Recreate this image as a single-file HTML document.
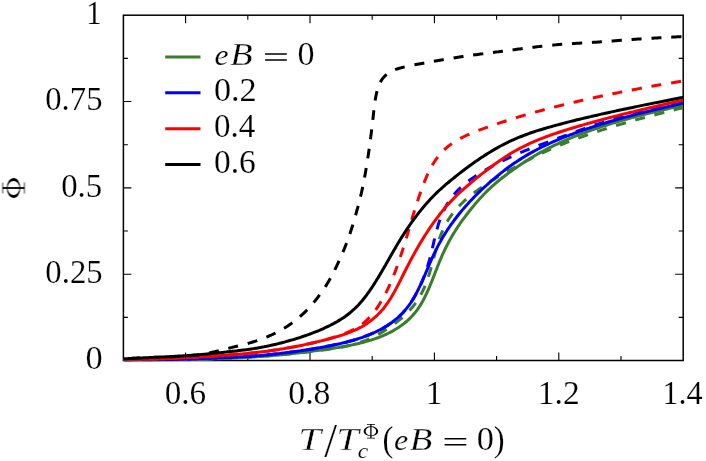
<!DOCTYPE html>
<html><head><meta charset="utf-8"><title>chart</title>
<style>
html,body{margin:0;padding:0;background:#fff;}
body{width:706px;height:461px;position:relative;overflow:hidden;font-family:"Liberation Serif",serif;}
</style></head><body>
<svg width="706" height="461" viewBox="0 0 706 461" style="position:absolute;left:0;top:0">
<rect x="0" y="0" width="706" height="461" fill="#fff"/>
<defs><clipPath id="cp"><rect x="123.4" y="15.2" width="559.80" height="346.00"/></clipPath></defs>
<g stroke="#000" fill="none" stroke-linecap="butt">
<rect x="123.4" y="15.2" width="559.80" height="345.30" stroke-width="1.5"/>
<path d="M185.60 360.5v-8M185.60 15.2v8M247.80 360.5v-4.5M247.80 15.2v4.5M310.00 360.5v-8M310.00 15.2v8M372.20 360.5v-4.5M372.20 15.2v4.5M434.40 360.5v-8M434.40 15.2v8M496.60 360.5v-4.5M496.60 15.2v4.5M558.80 360.5v-8M558.80 15.2v8M621.00 360.5v-4.5M621.00 15.2v4.5M123.4 317.34h4.5M683.2 317.34h-4.5M123.4 274.18h8M683.2 274.18h-8M123.4 231.01h4.5M683.2 231.01h-4.5M123.4 187.85h8M683.2 187.85h-8M123.4 144.69h4.5M683.2 144.69h-4.5M123.4 101.52h8M683.2 101.52h-8M123.4 58.36h4.5M683.2 58.36h-4.5" stroke-width="1.1"/>
</g>
<g clip-path="url(#cp)" fill="none" stroke-linejoin="round">
<path d="M123.40 360.40C123.83 360.40 125.10 360.40 125.95 360.39C126.81 360.39 127.66 360.38 128.51 360.38C129.36 360.37 130.21 360.37 131.06 360.36C131.91 360.36 132.76 360.35 133.62 360.35C134.47 360.34 135.32 360.34 136.17 360.33C137.02 360.33 137.87 360.32 138.72 360.31C139.57 360.31 140.43 360.30 141.28 360.30C142.13 360.29 142.98 360.29 143.83 360.28C144.68 360.27 145.53 360.27 146.39 360.26C147.24 360.25 148.09 360.25 148.94 360.24C149.79 360.23 150.64 360.23 151.49 360.22C152.34 360.21 153.20 360.20 154.05 360.20C154.90 360.19 155.75 360.18 156.60 360.17C157.45 360.16 158.30 360.15 159.15 360.14C160.01 360.14 160.86 360.13 161.71 360.12C162.56 360.11 163.41 360.10 164.26 360.09C165.11 360.08 165.96 360.07 166.81 360.05C167.67 360.04 168.52 360.03 169.37 360.02C170.22 360.01 171.07 360.00 171.92 359.98C172.77 359.97 173.62 359.96 174.47 359.94C175.33 359.93 176.18 359.92 177.03 359.90C177.88 359.89 178.73 359.87 179.58 359.86C180.43 359.84 181.28 359.82 182.13 359.81C182.99 359.79 183.84 359.77 184.69 359.76C185.54 359.74 186.39 359.72 187.24 359.70C188.09 359.68 188.94 359.67 189.79 359.65C190.64 359.63 191.50 359.61 192.35 359.59C193.20 359.56 194.05 359.54 194.90 359.52C195.75 359.50 196.60 359.48 197.45 359.45C198.30 359.43 199.15 359.41 200.00 359.38C200.86 359.36 201.71 359.33 202.56 359.30C203.41 359.28 204.26 359.25 205.11 359.22C205.96 359.20 206.81 359.17 207.66 359.14C208.51 359.11 209.36 359.08 210.21 359.05C211.06 359.02 211.92 358.99 212.77 358.96C213.62 358.93 214.47 358.90 215.32 358.86C216.17 358.83 217.02 358.80 217.87 358.76C218.72 358.73 219.57 358.70 220.42 358.66C221.27 358.63 222.12 358.59 222.97 358.55C223.82 358.52 224.67 358.48 225.52 358.44C226.37 358.40 227.23 358.36 228.08 358.32C228.93 358.29 229.78 358.25 230.63 358.21C231.48 358.16 232.33 358.12 233.18 358.08C234.03 358.04 234.88 358.00 235.73 357.95C236.58 357.91 237.43 357.87 238.28 357.82C239.13 357.78 239.98 357.73 240.83 357.68C241.68 357.64 242.53 357.59 243.38 357.54C244.23 357.49 245.08 357.45 245.93 357.40C246.78 357.35 247.63 357.30 248.48 357.24C249.33 357.19 250.18 357.14 251.03 357.09C251.87 357.03 252.72 356.98 253.57 356.92C254.42 356.87 255.27 356.81 256.12 356.75C256.97 356.70 257.82 356.64 258.67 356.58C259.52 356.52 260.37 356.46 261.22 356.40C262.06 356.34 262.91 356.27 263.76 356.21C264.61 356.14 265.46 356.08 266.31 356.01C267.16 355.95 268.01 355.88 268.85 355.81C269.70 355.74 270.55 355.67 271.40 355.60C272.25 355.53 273.09 355.45 273.94 355.38C274.79 355.30 275.64 355.23 276.49 355.15C277.33 355.07 278.18 355.00 279.03 354.92C279.88 354.84 280.72 354.76 281.57 354.68C282.42 354.59 283.26 354.51 284.11 354.43C284.96 354.34 285.81 354.26 286.65 354.17C287.50 354.08 288.35 354.00 289.19 353.91C290.04 353.82 290.89 353.73 291.73 353.63C292.58 353.54 293.42 353.45 294.27 353.36C295.12 353.26 295.96 353.17 296.81 353.07C297.66 352.97 298.50 352.87 299.35 352.78C300.19 352.68 301.04 352.58 301.88 352.47C302.73 352.37 303.57 352.27 304.42 352.17C305.27 352.06 306.11 351.96 306.96 351.86C307.80 351.75 308.65 351.64 309.49 351.54C310.34 351.43 311.18 351.32 312.03 351.21C312.87 351.10 313.72 350.99 314.56 350.88C315.41 350.77 316.25 350.66 317.10 350.55C317.94 350.43 318.79 350.32 319.63 350.20C320.48 350.09 321.32 349.97 322.16 349.86C323.01 349.74 323.85 349.63 324.70 349.51C325.54 349.39 326.39 349.27 327.23 349.15C328.07 349.03 328.92 348.91 329.76 348.78C330.61 348.66 331.45 348.53 332.29 348.41C333.13 348.28 333.98 348.15 334.82 348.02C335.66 347.89 336.50 347.75 337.35 347.62C338.19 347.48 339.03 347.34 339.87 347.20C340.71 347.06 341.55 346.92 342.39 346.77C343.23 346.62 344.07 346.47 344.91 346.32C345.75 346.17 346.59 346.01 347.42 345.85C348.26 345.69 349.10 345.53 349.94 345.36C350.77 345.20 351.61 345.03 352.44 344.85C353.28 344.68 354.11 344.50 354.94 344.31C355.78 344.13 356.61 343.94 357.44 343.75C358.27 343.56 359.10 343.36 359.93 343.16C360.76 342.95 361.59 342.74 362.41 342.53C363.24 342.31 364.06 342.09 364.89 341.87C365.71 341.64 366.53 341.41 367.35 341.17C368.17 340.93 368.99 340.68 369.80 340.43C370.62 340.18 371.43 339.92 372.24 339.65C373.06 339.39 373.87 339.12 374.67 338.84C375.48 338.56 376.29 338.27 377.09 337.98C377.89 337.68 378.69 337.38 379.48 337.07C380.28 336.76 381.07 336.45 381.86 336.12C382.65 335.80 383.43 335.46 384.22 335.12C385.00 334.78 385.78 334.43 386.55 334.07C387.32 333.71 388.09 333.35 388.85 332.97C389.61 332.59 390.37 332.21 391.12 331.81C391.88 331.42 392.62 331.01 393.36 330.60C394.10 330.18 394.84 329.76 395.57 329.32C396.29 328.89 397.01 328.44 397.73 327.99C398.44 327.53 399.14 327.07 399.84 326.59C400.54 326.12 401.23 325.63 401.91 325.13C402.59 324.63 403.26 324.12 403.92 323.60C404.58 323.08 405.23 322.55 405.87 322.01C406.52 321.47 407.15 320.91 407.77 320.35C408.39 319.79 409.00 319.21 409.61 318.63C410.21 318.04 410.80 317.44 411.37 316.84C411.95 316.23 412.52 315.61 413.08 314.99C413.63 314.36 414.18 313.72 414.71 313.07C415.24 312.42 415.76 311.77 416.27 311.10C416.78 310.43 417.27 309.75 417.76 309.07C418.24 308.38 418.72 307.69 419.18 306.98C419.64 306.28 420.09 305.57 420.54 304.85C420.98 304.13 421.41 303.40 421.83 302.67C422.25 301.94 422.67 301.20 423.07 300.46C423.48 299.71 423.87 298.96 424.26 298.21C424.65 297.46 425.03 296.70 425.41 295.93C425.78 295.17 426.15 294.40 426.51 293.63C426.87 292.86 427.22 292.08 427.57 291.31C427.92 290.53 428.27 289.75 428.61 288.96C428.95 288.18 429.28 287.40 429.61 286.61C429.95 285.82 430.27 285.03 430.60 284.24C430.92 283.45 431.24 282.66 431.56 281.87C431.88 281.07 432.20 280.28 432.51 279.48C432.83 278.69 433.14 277.89 433.45 277.10C433.76 276.30 434.07 275.50 434.38 274.71C434.69 273.91 435.00 273.11 435.31 272.31C435.62 271.52 435.93 270.72 436.24 269.92C436.55 269.13 436.86 268.33 437.18 267.54C437.49 266.74 437.80 265.95 438.12 265.16C438.44 264.36 438.75 263.57 439.07 262.78C439.40 261.99 439.72 261.20 440.05 260.42C440.37 259.63 440.70 258.84 441.04 258.06C441.37 257.28 441.71 256.49 442.05 255.72C442.39 254.94 442.74 254.16 443.09 253.38C443.44 252.61 443.79 251.84 444.15 251.07C444.52 250.30 444.88 249.53 445.25 248.77C445.62 248.00 446.00 247.24 446.38 246.48C446.76 245.72 447.15 244.96 447.54 244.21C447.93 243.46 448.33 242.71 448.73 241.96C449.13 241.21 449.54 240.47 449.95 239.73C450.37 238.98 450.79 238.24 451.21 237.51C451.64 236.77 452.06 236.04 452.50 235.31C452.93 234.58 453.37 233.85 453.82 233.13C454.26 232.40 454.71 231.68 455.17 230.96C455.62 230.25 456.08 229.53 456.54 228.82C457.01 228.10 457.48 227.39 457.95 226.69C458.42 225.98 458.90 225.28 459.38 224.57C459.86 223.87 460.35 223.17 460.84 222.48C461.33 221.78 461.82 221.09 462.32 220.40C462.82 219.71 463.32 219.02 463.82 218.33C464.33 217.65 464.84 216.96 465.35 216.28C465.86 215.60 466.38 214.92 466.90 214.25C467.42 213.57 467.94 212.90 468.47 212.23C468.99 211.56 469.52 210.89 470.05 210.22C470.58 209.56 471.12 208.90 471.66 208.24C472.20 207.58 472.74 206.92 473.28 206.26C473.83 205.61 474.38 204.96 474.93 204.31C475.48 203.66 476.03 203.01 476.59 202.37C477.15 201.73 477.71 201.09 478.27 200.45C478.84 199.82 479.40 199.18 479.97 198.55C480.54 197.92 481.12 197.30 481.70 196.68C482.28 196.05 482.86 195.44 483.44 194.82C484.03 194.21 484.62 193.60 485.21 192.99C485.81 192.39 486.41 191.78 487.01 191.19C487.61 190.59 488.22 190.00 488.83 189.41C489.44 188.83 490.06 188.24 490.68 187.67C491.30 187.09 491.93 186.52 492.56 185.95C493.19 185.39 493.82 184.83 494.46 184.27C495.10 183.71 495.75 183.16 496.40 182.61C497.04 182.07 497.70 181.52 498.35 180.99C499.01 180.45 499.67 179.91 500.33 179.38C500.99 178.85 501.66 178.32 502.33 177.80C503.00 177.28 503.67 176.75 504.34 176.24C505.02 175.72 505.69 175.20 506.37 174.69C507.05 174.18 507.73 173.67 508.42 173.16C509.10 172.66 509.79 172.15 510.48 171.65C511.16 171.15 511.85 170.65 512.55 170.16C513.24 169.66 513.94 169.17 514.63 168.68C515.33 168.19 516.03 167.71 516.73 167.22C517.43 166.74 518.13 166.26 518.84 165.78C519.55 165.30 520.25 164.83 520.96 164.36C521.67 163.89 522.38 163.42 523.10 162.95C523.81 162.49 524.53 162.03 525.24 161.57C525.96 161.11 526.68 160.65 527.40 160.20C528.12 159.75 528.85 159.30 529.57 158.85C530.30 158.41 531.03 157.97 531.76 157.53C532.48 157.09 533.22 156.65 533.95 156.22C534.68 155.79 535.42 155.36 536.16 154.94C536.90 154.51 537.64 154.09 538.38 153.68C539.12 153.26 539.86 152.84 540.61 152.43C541.36 152.02 542.10 151.62 542.85 151.21C543.60 150.81 544.36 150.41 545.11 150.02C545.86 149.62 546.62 149.23 547.37 148.84C548.13 148.45 548.89 148.06 549.65 147.68C550.41 147.30 551.17 146.92 551.94 146.55C552.70 146.17 553.47 145.80 554.23 145.43C555.00 145.06 555.77 144.70 556.54 144.33C557.31 143.97 558.08 143.61 558.86 143.26C559.63 142.90 560.40 142.55 561.18 142.20C561.96 141.85 562.73 141.50 563.51 141.16C564.29 140.81 565.07 140.47 565.85 140.14C566.63 139.80 567.42 139.46 568.20 139.13C568.98 138.80 569.77 138.47 570.55 138.14C571.34 137.82 572.13 137.49 572.92 137.17C573.70 136.85 574.49 136.53 575.29 136.22C576.08 135.90 576.87 135.59 577.66 135.28C578.45 134.97 579.25 134.66 580.04 134.35C580.84 134.05 581.63 133.74 582.43 133.44C583.22 133.14 584.02 132.84 584.82 132.55C585.62 132.25 586.42 131.96 587.22 131.67C588.02 131.38 588.82 131.09 589.62 130.80C590.42 130.51 591.22 130.23 592.03 129.95C592.83 129.66 593.63 129.38 594.44 129.11C595.24 128.83 596.05 128.55 596.85 128.28C597.66 128.00 598.47 127.73 599.27 127.46C600.08 127.19 600.89 126.92 601.70 126.66C602.51 126.39 603.32 126.13 604.13 125.87C604.94 125.60 605.75 125.34 606.56 125.09C607.37 124.83 608.18 124.57 608.99 124.32C609.81 124.06 610.62 123.81 611.43 123.56C612.25 123.31 613.06 123.06 613.88 122.81C614.69 122.56 615.51 122.32 616.32 122.07C617.14 121.83 617.95 121.59 618.77 121.35C619.59 121.11 620.40 120.87 621.22 120.63C622.04 120.39 622.86 120.16 623.68 119.92C624.49 119.69 625.31 119.46 626.13 119.23C626.95 119.00 627.77 118.77 628.59 118.54C629.41 118.31 630.23 118.09 631.05 117.86C631.88 117.64 632.70 117.42 633.52 117.19C634.34 116.97 635.16 116.75 635.99 116.53C636.81 116.32 637.63 116.10 638.46 115.88C639.28 115.67 640.10 115.45 640.93 115.24C641.75 115.03 642.58 114.82 643.40 114.61C644.23 114.40 645.05 114.19 645.88 113.98C646.70 113.77 647.53 113.57 648.36 113.36C649.18 113.16 650.01 112.96 650.83 112.75C651.66 112.55 652.49 112.35 653.32 112.15C654.14 111.95 654.97 111.75 655.80 111.56C656.63 111.36 657.46 111.16 658.28 110.97C659.11 110.77 659.94 110.58 660.77 110.38C661.60 110.19 662.43 110.00 663.26 109.81C664.09 109.62 664.92 109.42 665.75 109.23C666.58 109.05 667.41 108.86 668.24 108.67C669.07 108.48 669.90 108.29 670.73 108.10C671.56 107.92 672.39 107.73 673.22 107.55C674.05 107.36 674.88 107.17 675.71 106.99C676.54 106.80 677.38 106.62 678.21 106.44C679.04 106.25 679.87 106.07 680.70 105.88C681.53 105.70 682.78 105.42 683.19 105.33" stroke="#3a7d2c" stroke-width="3.0"/>
<path d="M123.40 360.41L124.90 360.40L126.40 360.39L127.90 360.38L129.40 360.37L130.90 360.36L132.40 360.35L132.65 360.35M142.65 360.29L144.15 360.28L145.65 360.27L147.15 360.26L148.65 360.24L150.15 360.23L151.65 360.22L152.65 360.21M162.40 360.11L163.90 360.09L165.40 360.07L166.90 360.05L168.40 360.03L169.90 360.01L171.40 359.99L172.65 359.97M182.39 359.80L183.89 359.78L185.39 359.74L186.89 359.71L188.39 359.68L189.89 359.64L191.39 359.61L192.39 359.59M202.14 359.32L203.64 359.27L205.13 359.22L206.63 359.17L208.13 359.12L209.63 359.07L211.13 359.02L212.38 358.97M222.12 358.59L223.62 358.52L225.12 358.46L226.62 358.39L228.12 358.32L229.61 358.25L231.11 358.18L232.11 358.13M242.10 357.60L243.59 357.52L245.09 357.43L246.59 357.35L248.09 357.26L249.58 357.16L251.08 357.07L252.08 357.01M261.80 356.34L263.30 356.23L264.80 356.12L266.29 356.00L267.79 355.88L269.28 355.76L270.78 355.64L272.02 355.54M281.73 354.67L283.23 354.53L284.72 354.38L286.21 354.23L287.70 354.09L289.20 353.94L290.69 353.78L291.68 353.68M301.38 352.63L302.87 352.46L304.36 352.29L305.85 352.12L307.34 351.95L308.83 351.77L310.32 351.59L311.56 351.44M321.23 350.23L322.72 350.04L324.21 349.84L325.69 349.65L327.18 349.44L328.66 349.24L330.15 349.03L331.14 348.88M341.00 347.25L342.48 346.97L343.95 346.68L345.42 346.38L346.88 346.06L348.35 345.73L349.81 345.39L350.78 345.15M360.14 342.43L361.55 341.94L362.96 341.42L364.37 340.89L365.76 340.34L367.15 339.76L368.52 339.17L369.44 338.76M378.14 334.38L379.45 333.64L380.75 332.90L382.04 332.13L383.33 331.36L384.60 330.57L385.87 329.77L386.71 329.23M394.71 323.66L395.91 322.76L397.09 321.84L398.27 320.90L399.43 319.95L400.58 318.99L401.72 318.01L402.47 317.36M409.45 310.55L410.45 309.44L411.44 308.31L412.41 307.16L413.35 306.00L414.27 304.81L415.17 303.61L415.75 302.80M420.78 294.74L421.48 293.42L422.17 292.09L422.83 290.74L423.46 289.38L424.08 288.01L424.67 286.64L425.06 285.71M428.33 276.80L428.79 275.37L429.25 273.94L429.69 272.51L430.12 271.07L430.54 269.63L430.96 268.19L431.23 267.23M433.74 258.07L434.13 256.62L434.52 255.17L434.92 253.72L435.31 252.28L435.71 250.83L436.12 249.39L436.33 248.67M439.22 239.36L439.72 237.94L440.23 236.53L440.76 235.13L441.31 233.73L441.88 232.35L442.47 230.97L442.77 230.28M447.22 221.61L447.99 220.32L448.79 219.05L449.61 217.80L450.45 216.56L451.32 215.34L452.21 214.13L452.67 213.54M459.03 206.16L460.08 205.08L461.14 204.02L462.21 202.97L463.30 201.94L464.40 200.92L465.51 199.91L466.26 199.25M473.79 193.06L474.98 192.15L476.18 191.25L477.39 190.36L478.60 189.48L479.83 188.61L481.05 187.74L481.87 187.17M490.00 181.79L491.27 180.99L492.54 180.19L493.81 179.40L495.09 178.62L496.37 177.84L497.66 177.06L498.51 176.55M506.93 171.63L508.24 170.89L509.54 170.15L510.85 169.41L512.16 168.68L513.47 167.95L514.78 167.22L515.65 166.74M524.22 162.09L525.55 161.39L526.88 160.69L528.21 159.99L529.54 159.30L530.87 158.62L532.21 157.94L533.10 157.49M541.86 153.20L543.22 152.56L544.58 151.93L545.94 151.30L547.30 150.68L548.67 150.06L550.04 149.45L550.95 149.04M559.92 145.21L561.30 144.64L562.69 144.07L564.08 143.51L565.48 142.96L566.87 142.40L568.27 141.86L569.20 141.49M578.32 138.06L579.73 137.55L581.14 137.04L582.56 136.53L583.97 136.03L585.38 135.53L586.80 135.04L587.98 134.63M597.22 131.52L598.65 131.05L600.07 130.59L601.50 130.13L602.93 129.67L604.36 129.21L605.79 128.76L606.74 128.46M616.06 125.60L617.50 125.17L618.94 124.74L620.38 124.32L621.81 123.90L623.25 123.48L624.70 123.06L625.90 122.71M635.28 120.06L636.72 119.66L638.17 119.26L639.62 118.86L641.06 118.47L642.51 118.08L643.96 117.68L644.92 117.43M654.35 114.94L655.80 114.56L657.25 114.18L658.71 113.81L660.16 113.44L661.61 113.07L663.07 112.70L664.28 112.39M673.73 110.01L675.19 109.65L676.64 109.29L678.10 108.92L679.56 108.56L681.01 108.20L682.47 107.84L683.20 107.66" stroke="#3a7d2c" stroke-width="3.0"/>
<path d="M123.40 360.21C123.82 360.20 125.10 360.19 125.94 360.18C126.79 360.17 127.64 360.16 128.49 360.15C129.33 360.14 130.18 360.12 131.03 360.11C131.88 360.10 132.72 360.09 133.57 360.08C134.42 360.07 135.27 360.06 136.11 360.05C136.96 360.04 137.81 360.03 138.66 360.02C139.50 360.01 140.35 359.99 141.20 359.98C142.05 359.97 142.90 359.96 143.74 359.95C144.59 359.94 145.44 359.92 146.29 359.91C147.13 359.90 147.98 359.89 148.83 359.87C149.68 359.86 150.52 359.85 151.37 359.83C152.22 359.82 153.07 359.80 153.91 359.79C154.76 359.78 155.61 359.76 156.46 359.75C157.30 359.73 158.15 359.71 159.00 359.70C159.85 359.68 160.69 359.67 161.54 359.65C162.39 359.63 163.24 359.62 164.08 359.60C164.93 359.58 165.78 359.56 166.63 359.54C167.47 359.53 168.32 359.51 169.17 359.49C170.02 359.47 170.86 359.45 171.71 359.43C172.56 359.41 173.41 359.39 174.25 359.37C175.10 359.34 175.95 359.32 176.80 359.30C177.64 359.28 178.49 359.26 179.34 359.23C180.19 359.21 181.03 359.19 181.88 359.16C182.73 359.14 183.58 359.11 184.42 359.09C185.27 359.06 186.12 359.04 186.96 359.01C187.81 358.99 188.66 358.96 189.51 358.93C190.35 358.90 191.20 358.88 192.05 358.85C192.90 358.82 193.74 358.79 194.59 358.76C195.44 358.73 196.28 358.70 197.13 358.67C197.98 358.64 198.83 358.61 199.67 358.58C200.52 358.55 201.37 358.52 202.21 358.49C203.06 358.46 203.91 358.42 204.76 358.39C205.60 358.36 206.45 358.32 207.30 358.29C208.14 358.25 208.99 358.22 209.84 358.18C210.68 358.15 211.53 358.11 212.38 358.08C213.23 358.04 214.07 358.01 214.92 357.97C215.77 357.93 216.61 357.89 217.46 357.86C218.31 357.82 219.15 357.78 220.00 357.74C220.85 357.71 221.69 357.67 222.54 357.63C223.39 357.59 224.23 357.55 225.08 357.51C225.93 357.47 226.77 357.43 227.62 357.39C228.47 357.35 229.31 357.31 230.16 357.27C231.01 357.23 231.85 357.19 232.70 357.15C233.55 357.11 234.39 357.07 235.24 357.02C236.09 356.98 236.93 356.94 237.78 356.90C238.63 356.86 239.47 356.81 240.32 356.77C241.16 356.73 242.01 356.68 242.86 356.64C243.70 356.59 244.55 356.54 245.39 356.49C246.24 356.44 247.09 356.39 247.93 356.34C248.78 356.29 249.62 356.24 250.47 356.18C251.31 356.12 252.16 356.07 253.00 356.01C253.85 355.95 254.69 355.89 255.54 355.82C256.38 355.76 257.23 355.69 258.07 355.62C258.92 355.56 259.76 355.49 260.60 355.42C261.45 355.34 262.29 355.27 263.14 355.19C263.98 355.12 264.82 355.04 265.67 354.96C266.51 354.88 267.35 354.80 268.20 354.72C269.04 354.63 269.88 354.55 270.73 354.46C271.57 354.38 272.41 354.29 273.25 354.20C274.10 354.11 274.94 354.02 275.78 353.92C276.62 353.83 277.47 353.74 278.31 353.64C279.15 353.55 279.99 353.45 280.83 353.35C281.68 353.25 282.52 353.15 283.36 353.05C284.20 352.95 285.04 352.85 285.88 352.74C286.72 352.64 287.57 352.53 288.41 352.42C289.25 352.32 290.09 352.21 290.93 352.10C291.77 351.99 292.61 351.87 293.45 351.76C294.29 351.64 295.13 351.53 295.97 351.41C296.81 351.29 297.65 351.17 298.49 351.05C299.33 350.93 300.16 350.81 301.00 350.68C301.84 350.56 302.68 350.43 303.52 350.31C304.36 350.18 305.20 350.05 306.03 349.92C306.87 349.79 307.71 349.66 308.55 349.53C309.39 349.39 310.22 349.26 311.06 349.12C311.90 348.98 312.73 348.85 313.57 348.71C314.41 348.57 315.25 348.43 316.08 348.28C316.92 348.14 317.75 348.00 318.59 347.85C319.43 347.70 320.26 347.56 321.10 347.41C321.93 347.26 322.77 347.11 323.60 346.96C324.44 346.80 325.27 346.65 326.11 346.49C326.94 346.34 327.78 346.18 328.61 346.02C329.44 345.86 330.28 345.69 331.11 345.53C331.94 345.36 332.78 345.19 333.61 345.02C334.44 344.85 335.27 344.68 336.10 344.50C336.93 344.32 337.76 344.14 338.59 343.96C339.42 343.77 340.25 343.59 341.08 343.40C341.90 343.20 342.73 343.01 343.56 342.81C344.38 342.61 345.21 342.41 346.03 342.20C346.85 341.99 347.67 341.78 348.50 341.56C349.32 341.34 350.14 341.12 350.96 340.89C351.77 340.67 352.59 340.43 353.41 340.19C354.22 339.95 355.04 339.71 355.85 339.46C356.66 339.21 357.47 338.95 358.28 338.69C359.09 338.43 359.89 338.16 360.70 337.89C361.50 337.62 362.31 337.34 363.11 337.05C363.91 336.76 364.71 336.47 365.50 336.17C366.30 335.88 367.09 335.57 367.88 335.26C368.67 334.95 369.46 334.63 370.24 334.30C371.03 333.98 371.81 333.64 372.59 333.30C373.37 332.96 374.14 332.61 374.91 332.26C375.68 331.90 376.45 331.54 377.21 331.17C377.97 330.79 378.73 330.42 379.48 330.03C380.24 329.64 380.98 329.24 381.73 328.83C382.47 328.43 383.21 328.01 383.94 327.59C384.67 327.16 385.39 326.73 386.11 326.29C386.83 325.84 387.54 325.39 388.25 324.93C388.95 324.47 389.65 324.00 390.34 323.51C391.03 323.03 391.72 322.54 392.39 322.04C393.07 321.53 393.73 321.02 394.39 320.50C395.05 319.98 395.70 319.45 396.34 318.90C396.98 318.36 397.62 317.81 398.24 317.25C398.86 316.69 399.48 316.11 400.08 315.53C400.68 314.95 401.28 314.36 401.86 313.76C402.44 313.16 403.02 312.55 403.58 311.93C404.15 311.31 404.70 310.68 405.24 310.04C405.78 309.40 406.31 308.75 406.83 308.10C407.35 307.44 407.86 306.77 408.36 306.10C408.86 305.42 409.35 304.74 409.83 304.05C410.31 303.36 410.77 302.66 411.23 301.95C411.69 301.25 412.14 300.53 412.58 299.82C413.02 299.10 413.45 298.37 413.87 297.64C414.30 296.91 414.71 296.18 415.12 295.44C415.53 294.70 415.94 293.95 416.33 293.21C416.73 292.46 417.12 291.71 417.51 290.95C417.89 290.20 418.27 289.44 418.65 288.68C419.02 287.92 419.39 287.15 419.76 286.38C420.12 285.62 420.49 284.85 420.84 284.08C421.20 283.31 421.55 282.53 421.90 281.76C422.26 280.98 422.60 280.21 422.95 279.43C423.29 278.65 423.63 277.87 423.97 277.09C424.31 276.31 424.65 275.53 424.98 274.75C425.32 273.97 425.65 273.18 425.98 272.40C426.32 271.62 426.65 270.83 426.98 270.05C427.31 269.27 427.64 268.48 427.97 267.70C428.31 266.92 428.64 266.13 428.97 265.35C429.31 264.57 429.64 263.79 429.98 263.01C430.32 262.23 430.66 261.45 431.00 260.67C431.34 259.89 431.69 259.12 432.03 258.34C432.38 257.57 432.73 256.79 433.08 256.02C433.44 255.25 433.79 254.48 434.15 253.72C434.51 252.95 434.88 252.18 435.25 251.42C435.62 250.66 435.99 249.90 436.37 249.14C436.75 248.38 437.13 247.63 437.52 246.87C437.90 246.12 438.29 245.37 438.69 244.62C439.09 243.88 439.49 243.13 439.90 242.39C440.31 241.65 440.72 240.91 441.14 240.18C441.55 239.44 441.98 238.71 442.41 237.98C442.83 237.25 443.27 236.52 443.71 235.80C444.15 235.08 444.59 234.36 445.04 233.64C445.49 232.92 445.94 232.21 446.40 231.50C446.86 230.79 447.32 230.08 447.79 229.38C448.26 228.67 448.73 227.97 449.21 227.27C449.69 226.57 450.17 225.88 450.66 225.18C451.14 224.49 451.63 223.80 452.13 223.11C452.62 222.43 453.12 221.74 453.63 221.06C454.13 220.38 454.64 219.70 455.15 219.03C455.66 218.35 456.18 217.68 456.70 217.01C457.22 216.34 457.74 215.68 458.27 215.01C458.80 214.35 459.33 213.69 459.87 213.03C460.40 212.37 460.94 211.72 461.48 211.07C462.03 210.42 462.57 209.77 463.12 209.12C463.67 208.48 464.22 207.84 464.78 207.20C465.34 206.56 465.90 205.92 466.46 205.29C467.03 204.65 467.59 204.02 468.16 203.40C468.73 202.77 469.31 202.15 469.89 201.53C470.46 200.90 471.04 200.29 471.63 199.67C472.21 199.06 472.80 198.45 473.39 197.84C473.98 197.23 474.58 196.62 475.17 196.02C475.77 195.42 476.37 194.82 476.97 194.22C477.58 193.63 478.18 193.03 478.79 192.44C479.40 191.85 480.01 191.27 480.63 190.68C481.24 190.10 481.86 189.52 482.48 188.94C483.10 188.36 483.72 187.78 484.35 187.21C484.98 186.64 485.60 186.07 486.23 185.50C486.87 184.93 487.50 184.37 488.13 183.81C488.77 183.24 489.41 182.68 490.05 182.13C490.69 181.57 491.33 181.02 491.98 180.47C492.62 179.91 493.27 179.36 493.92 178.82C494.56 178.27 495.22 177.73 495.87 177.19C496.52 176.65 497.18 176.11 497.83 175.57C498.49 175.03 499.15 174.50 499.81 173.97C500.47 173.44 501.14 172.91 501.80 172.39C502.47 171.86 503.14 171.34 503.81 170.82C504.48 170.30 505.15 169.79 505.83 169.28C506.50 168.77 507.18 168.26 507.86 167.76C508.54 167.25 509.23 166.75 509.91 166.26C510.60 165.76 511.29 165.27 511.98 164.78C512.68 164.30 513.37 163.81 514.07 163.33C514.77 162.85 515.47 162.38 516.17 161.91C516.87 161.44 517.58 160.97 518.29 160.51C519.00 160.04 519.71 159.58 520.42 159.13C521.14 158.68 521.85 158.23 522.57 157.78C523.29 157.33 524.02 156.89 524.74 156.46C525.47 156.02 526.19 155.59 526.92 155.16C527.65 154.73 528.39 154.30 529.12 153.88C529.86 153.46 530.59 153.05 531.33 152.64C532.07 152.22 532.82 151.82 533.56 151.41C534.30 151.01 535.05 150.61 535.80 150.21C536.55 149.82 537.30 149.43 538.05 149.04C538.81 148.65 539.56 148.26 540.32 147.88C541.08 147.50 541.83 147.13 542.60 146.75C543.36 146.38 544.12 146.01 544.88 145.65C545.65 145.28 546.41 144.92 547.18 144.56C547.95 144.20 548.72 143.84 549.49 143.49C550.26 143.14 551.03 142.79 551.81 142.44C552.58 142.10 553.36 141.76 554.14 141.42C554.91 141.08 555.69 140.74 556.47 140.41C557.25 140.07 558.03 139.74 558.81 139.41C559.60 139.09 560.38 138.76 561.16 138.44C561.95 138.12 562.73 137.80 563.52 137.48C564.31 137.16 565.09 136.85 565.88 136.54C566.67 136.22 567.46 135.92 568.25 135.61C569.04 135.30 569.83 135.00 570.63 134.70C571.42 134.39 572.21 134.09 573.01 133.80C573.80 133.50 574.60 133.20 575.39 132.91C576.19 132.62 576.98 132.33 577.78 132.04C578.58 131.75 579.38 131.46 580.18 131.18C580.97 130.90 581.77 130.61 582.57 130.33C583.38 130.05 584.18 129.78 584.98 129.50C585.78 129.22 586.58 128.95 587.39 128.68C588.19 128.40 588.99 128.13 589.80 127.87C590.60 127.60 591.41 127.33 592.21 127.07C593.02 126.80 593.82 126.54 594.63 126.28C595.44 126.02 596.24 125.76 597.05 125.50C597.86 125.24 598.67 124.99 599.48 124.73C600.28 124.48 601.09 124.22 601.90 123.97C602.71 123.72 603.52 123.47 604.33 123.23C605.14 122.98 605.96 122.73 606.77 122.49C607.58 122.24 608.39 122.00 609.20 121.76C610.02 121.52 610.83 121.28 611.64 121.04C612.46 120.80 613.27 120.56 614.09 120.33C614.90 120.09 615.71 119.86 616.53 119.62C617.34 119.39 618.16 119.16 618.98 118.93C619.79 118.70 620.61 118.47 621.42 118.24C622.24 118.02 623.06 117.79 623.88 117.57C624.69 117.34 625.51 117.12 626.33 116.90C627.15 116.67 627.97 116.45 628.79 116.23C629.60 116.01 630.42 115.80 631.24 115.58C632.06 115.36 632.88 115.15 633.70 114.93C634.52 114.72 635.34 114.51 636.16 114.29C636.98 114.08 637.81 113.87 638.63 113.66C639.45 113.45 640.27 113.24 641.09 113.04C641.91 112.83 642.74 112.62 643.56 112.42C644.38 112.21 645.20 112.01 646.03 111.81C646.85 111.60 647.67 111.40 648.50 111.20C649.32 111.00 650.14 110.80 650.97 110.60C651.79 110.40 652.62 110.21 653.44 110.01C654.27 109.81 655.09 109.62 655.92 109.42C656.74 109.23 657.57 109.03 658.39 108.84C659.22 108.65 660.04 108.45 660.87 108.26C661.69 108.07 662.52 107.88 663.35 107.69C664.17 107.50 665.00 107.31 665.82 107.12C666.65 106.93 667.48 106.74 668.30 106.56C669.13 106.37 669.96 106.18 670.78 106.00C671.61 105.81 672.44 105.62 673.27 105.44C674.09 105.25 674.92 105.07 675.75 104.88C676.57 104.70 677.40 104.51 678.23 104.33C679.06 104.15 679.88 103.96 680.71 103.78C681.54 103.59 682.78 103.32 683.19 103.23" stroke="#0000ff" stroke-width="3.0"/>
<path d="M127.65 360.16L129.15 360.14L130.65 360.12L132.15 360.10L133.65 360.08L135.15 360.06L136.65 360.04L137.90 360.03M147.64 359.89L149.14 359.87L150.64 359.84L152.14 359.82L153.64 359.79L155.14 359.77L156.64 359.74L157.64 359.72M167.39 359.53L168.89 359.49L170.39 359.46L171.89 359.42L173.39 359.39L174.89 359.35L176.39 359.31L177.63 359.28M187.38 359.00L188.88 358.95L190.38 358.90L191.88 358.85L193.38 358.80L194.87 358.75L196.37 358.70L197.37 358.67M207.36 358.29L208.86 358.22L210.36 358.16L211.86 358.10L213.36 358.04L214.86 357.97L216.35 357.91L217.35 357.86M227.09 357.42L228.59 357.35L230.09 357.27L231.59 357.20L233.08 357.13L234.58 357.06L236.08 356.98L237.33 356.92M247.06 356.39L248.56 356.30L250.06 356.21L251.55 356.11L253.05 356.00L254.55 355.90L256.04 355.78L257.04 355.71M266.75 354.86L268.24 354.71L269.73 354.56L271.23 354.41L272.72 354.26L274.21 354.10L275.70 353.93L276.94 353.80M286.62 352.65L288.11 352.46L289.60 352.27L291.09 352.08L292.57 351.88L294.06 351.68L295.54 351.47L296.54 351.33M306.42 349.86L307.91 349.63L309.39 349.39L310.87 349.15L312.35 348.91L313.83 348.66L315.31 348.42L316.29 348.25M325.89 346.53L327.36 346.26L328.84 345.97L330.31 345.69L331.78 345.39L333.25 345.09L334.72 344.79L335.70 344.59M345.44 342.35L346.89 341.98L348.35 341.60L349.79 341.21L351.24 340.81L352.68 340.40L354.12 339.98L355.08 339.69M364.33 336.61L365.73 336.08L367.13 335.55L368.53 335.00L369.92 334.43L371.30 333.85L372.68 333.26L373.59 332.85M382.31 328.50L383.62 327.77L384.91 327.01L386.19 326.23L387.46 325.43L388.72 324.61L389.96 323.77L390.78 323.20M398.39 317.12L399.50 316.10L400.58 315.06L401.64 314.01L402.69 312.93L403.71 311.83L404.71 310.71L405.36 309.95M411.21 302.16L412.02 300.90L412.82 299.63L413.60 298.35L414.36 297.06L415.11 295.76L415.83 294.45L416.19 293.79M420.52 285.06L421.14 283.69L421.74 282.31L422.32 280.93L422.90 279.55L423.45 278.15L424.00 276.76L424.26 276.06M427.43 266.84L427.87 265.40L428.30 263.97L428.72 262.53L429.13 261.08L429.53 259.64L429.91 258.19L430.11 257.46M432.37 248.24L432.71 246.78L433.05 245.32L433.38 243.86L433.72 242.39L434.06 240.93L434.40 239.47L434.63 238.50M436.96 229.29L437.36 227.85L437.78 226.41L438.21 224.97L438.66 223.54L439.12 222.11L439.60 220.69L439.94 219.75M443.55 210.97L444.20 209.62L444.88 208.28L445.58 206.95L446.31 205.64L447.06 204.35L447.84 203.07L448.38 202.22M454.00 194.57L454.98 193.43L455.97 192.31L456.99 191.21L458.03 190.13L459.09 189.07L460.17 188.03L460.90 187.35M468.39 181.11L469.59 180.21L470.80 179.33L472.03 178.47L473.26 177.62L474.51 176.78L475.76 175.95L476.60 175.41M484.93 170.34L486.23 169.60L487.53 168.86L488.84 168.13L490.15 167.40L491.47 166.68L492.79 165.96L493.67 165.49M502.33 161.01L503.67 160.34L505.02 159.68L506.37 159.03L507.72 158.38L509.07 157.74L510.43 157.10L511.34 156.68M520.25 152.72L521.63 152.13L523.01 151.55L524.40 150.98L525.79 150.42L527.18 149.86L528.57 149.31L529.51 148.95M538.62 145.49L540.03 144.97L541.43 144.45L542.84 143.92L544.25 143.40L545.65 142.88L547.06 142.36L548.23 141.93M557.37 138.53L558.77 138.01L560.18 137.48L561.58 136.96L562.99 136.44L564.40 135.91L565.80 135.39L566.74 135.04M575.88 131.64L577.28 131.13L578.69 130.61L580.10 130.10L581.51 129.59L582.92 129.08L584.34 128.58L585.28 128.24M594.74 125.00L596.16 124.52L597.58 124.06L599.01 123.59L600.44 123.13L601.87 122.68L603.30 122.22L604.25 121.92M613.58 119.10L615.02 118.67L616.46 118.26L617.90 117.84L619.34 117.43L620.79 117.02L622.23 116.62L623.19 116.35M632.61 113.81L634.06 113.43L635.51 113.05L636.96 112.68L638.41 112.30L639.87 111.93L641.32 111.57L642.53 111.26M652.00 108.94L653.46 108.60L654.92 108.25L656.38 107.90L657.84 107.56L659.30 107.22L660.76 106.88L661.73 106.66M671.24 104.49L672.70 104.16L674.17 103.84L675.63 103.51L677.09 103.18L678.56 102.86L680.02 102.53L681.24 102.26" stroke="#0000ff" stroke-width="3.0"/>
<path d="M123.40 359.81C123.82 359.80 125.09 359.77 125.93 359.74C126.78 359.72 127.62 359.70 128.46 359.68C129.31 359.66 130.15 359.64 131.00 359.62C131.84 359.59 132.69 359.57 133.53 359.55C134.37 359.53 135.22 359.51 136.06 359.48C136.91 359.46 137.75 359.44 138.59 359.42C139.44 359.39 140.28 359.37 141.13 359.35C141.97 359.32 142.81 359.30 143.66 359.28C144.50 359.25 145.35 359.23 146.19 359.21C147.03 359.18 147.88 359.16 148.72 359.13C149.57 359.11 150.41 359.08 151.25 359.05C152.10 359.03 152.94 359.00 153.79 358.98C154.63 358.95 155.47 358.92 156.32 358.89C157.16 358.87 158.01 358.84 158.85 358.81C159.69 358.78 160.54 358.75 161.38 358.72C162.23 358.69 163.07 358.66 163.91 358.63C164.76 358.60 165.60 358.57 166.44 358.54C167.29 358.50 168.13 358.47 168.98 358.44C169.82 358.41 170.66 358.37 171.51 358.34C172.35 358.30 173.19 358.27 174.04 358.23C174.88 358.20 175.73 358.16 176.57 358.13C177.41 358.09 178.26 358.05 179.10 358.01C179.94 357.98 180.79 357.94 181.63 357.90C182.47 357.86 183.32 357.82 184.16 357.78C185.00 357.74 185.85 357.70 186.69 357.66C187.53 357.62 188.38 357.58 189.22 357.53C190.06 357.49 190.91 357.45 191.75 357.40C192.59 357.36 193.44 357.32 194.28 357.27C195.12 357.23 195.97 357.18 196.81 357.13C197.65 357.09 198.49 357.04 199.34 356.99C200.18 356.95 201.02 356.90 201.87 356.85C202.71 356.80 203.55 356.75 204.39 356.70C205.24 356.65 206.08 356.60 206.92 356.55C207.77 356.50 208.61 356.44 209.45 356.39C210.29 356.34 211.14 356.28 211.98 356.23C212.82 356.17 213.66 356.12 214.50 356.06C215.35 356.00 216.19 355.94 217.03 355.88C217.87 355.82 218.71 355.76 219.56 355.70C220.40 355.64 221.24 355.58 222.08 355.52C222.92 355.45 223.77 355.39 224.61 355.32C225.45 355.26 226.29 355.19 227.13 355.13C227.97 355.06 228.81 354.99 229.66 354.93C230.50 354.86 231.34 354.79 232.18 354.72C233.02 354.65 233.86 354.58 234.70 354.52C235.54 354.45 236.39 354.38 237.23 354.31C238.07 354.24 238.91 354.17 239.75 354.10C240.59 354.02 241.43 353.95 242.27 353.88C243.11 353.80 243.95 353.73 244.79 353.65C245.63 353.58 246.47 353.50 247.31 353.42C248.15 353.34 248.99 353.26 249.83 353.18C250.67 353.10 251.51 353.01 252.35 352.93C253.19 352.84 254.03 352.75 254.87 352.66C255.71 352.57 256.55 352.48 257.39 352.38C258.23 352.29 259.06 352.19 259.90 352.09C260.74 351.99 261.58 351.89 262.41 351.79C263.25 351.69 264.09 351.58 264.93 351.47C265.76 351.37 266.60 351.26 267.44 351.15C268.27 351.04 269.11 350.92 269.95 350.81C270.78 350.69 271.62 350.57 272.45 350.45C273.29 350.33 274.12 350.21 274.96 350.08C275.79 349.96 276.63 349.83 277.46 349.70C278.29 349.58 279.13 349.44 279.96 349.31C280.79 349.18 281.63 349.04 282.46 348.90C283.29 348.77 284.13 348.63 284.96 348.48C285.79 348.34 286.62 348.20 287.45 348.05C288.29 347.90 289.12 347.75 289.95 347.60C290.78 347.45 291.61 347.30 292.44 347.14C293.27 346.99 294.10 346.83 294.93 346.67C295.76 346.51 296.59 346.35 297.42 346.18C298.25 346.02 299.08 345.85 299.91 345.68C300.73 345.52 301.56 345.35 302.39 345.17C303.22 345.00 304.05 344.83 304.87 344.65C305.70 344.47 306.53 344.30 307.36 344.12C308.18 343.93 309.01 343.75 309.84 343.57C310.67 343.38 311.49 343.20 312.32 343.01C313.14 342.82 313.97 342.63 314.80 342.44C315.62 342.25 316.45 342.05 317.27 341.86C318.10 341.66 318.92 341.46 319.75 341.26C320.57 341.06 321.40 340.86 322.22 340.65C323.04 340.45 323.87 340.24 324.69 340.03C325.51 339.82 326.34 339.61 327.16 339.39C327.98 339.18 328.80 338.96 329.62 338.74C330.44 338.52 331.26 338.29 332.08 338.07C332.90 337.84 333.71 337.61 334.53 337.37C335.35 337.14 336.16 336.90 336.97 336.66C337.79 336.41 338.60 336.17 339.41 335.91C340.22 335.66 341.03 335.40 341.83 335.14C342.64 334.88 343.44 334.61 344.24 334.34C345.04 334.06 345.84 333.78 346.63 333.49C347.43 333.20 348.22 332.91 349.01 332.61C349.79 332.31 350.58 332.00 351.36 331.68C352.14 331.36 352.91 331.03 353.68 330.70C354.45 330.36 355.22 330.02 355.98 329.67C356.74 329.31 357.49 328.95 358.24 328.57C358.99 328.20 359.73 327.82 360.47 327.42C361.21 327.03 361.94 326.62 362.66 326.20C363.38 325.78 364.10 325.36 364.80 324.92C365.51 324.48 366.21 324.03 366.90 323.56C367.60 323.10 368.28 322.63 368.96 322.14C369.63 321.66 370.30 321.16 370.96 320.65C371.62 320.15 372.27 319.63 372.91 319.10C373.55 318.57 374.18 318.03 374.81 317.48C375.43 316.93 376.04 316.37 376.65 315.79C377.25 315.22 377.85 314.64 378.43 314.05C379.02 313.46 379.59 312.85 380.16 312.24C380.72 311.63 381.28 311.01 381.83 310.38C382.37 309.75 382.91 309.11 383.44 308.46C383.96 307.81 384.48 307.15 384.99 306.49C385.50 305.82 386.00 305.15 386.49 304.47C386.98 303.79 387.46 303.10 387.94 302.41C388.41 301.72 388.88 301.02 389.33 300.31C389.79 299.61 390.24 298.90 390.69 298.18C391.13 297.46 391.57 296.74 392.00 296.01C392.43 295.29 392.85 294.56 393.27 293.82C393.69 293.09 394.10 292.35 394.51 291.61C394.91 290.87 395.32 290.12 395.72 289.38C396.12 288.63 396.51 287.88 396.90 287.13C397.30 286.38 397.69 285.63 398.07 284.87C398.46 284.12 398.85 283.36 399.23 282.61C399.62 281.85 400.00 281.09 400.38 280.34C400.76 279.58 401.14 278.82 401.52 278.06C401.90 277.30 402.28 276.55 402.66 275.79C403.04 275.03 403.42 274.27 403.80 273.51C404.19 272.76 404.57 272.00 404.95 271.24C405.33 270.49 405.72 269.73 406.10 268.98C406.49 268.22 406.87 267.47 407.26 266.72C407.65 265.96 408.04 265.21 408.43 264.46C408.82 263.71 409.21 262.96 409.60 262.21C409.99 261.46 410.39 260.71 410.79 259.96C411.18 259.22 411.58 258.47 411.98 257.73C412.38 256.98 412.79 256.24 413.19 255.50C413.60 254.75 414.00 254.01 414.41 253.27C414.82 252.53 415.23 251.80 415.65 251.06C416.06 250.32 416.48 249.59 416.90 248.85C417.31 248.12 417.74 247.39 418.16 246.66C418.58 245.93 419.01 245.20 419.44 244.47C419.87 243.74 420.30 243.02 420.73 242.29C421.17 241.57 421.61 240.85 422.05 240.13C422.49 239.40 422.93 238.69 423.37 237.97C423.82 237.25 424.27 236.54 424.72 235.82C425.17 235.11 425.63 234.40 426.08 233.69C426.54 232.98 427.00 232.27 427.46 231.56C427.93 230.86 428.39 230.15 428.86 229.45C429.33 228.75 429.80 228.05 430.28 227.35C430.75 226.65 431.23 225.96 431.71 225.26C432.19 224.57 432.67 223.88 433.16 223.19C433.65 222.50 434.14 221.81 434.63 221.13C435.12 220.44 435.62 219.76 436.12 219.08C436.62 218.41 437.13 217.73 437.64 217.06C438.15 216.39 438.66 215.72 439.18 215.05C439.69 214.38 440.21 213.72 440.74 213.06C441.26 212.40 441.79 211.75 442.33 211.10C442.86 210.44 443.40 209.79 443.94 209.15C444.48 208.51 445.03 207.86 445.58 207.23C446.13 206.59 446.69 205.96 447.25 205.33C447.81 204.70 448.37 204.07 448.94 203.45C449.51 202.83 450.08 202.21 450.66 201.60C451.24 200.99 451.82 200.38 452.41 199.77C452.99 199.17 453.59 198.57 454.18 197.97C454.77 197.37 455.37 196.78 455.98 196.19C456.58 195.60 457.19 195.02 457.79 194.43C458.40 193.85 459.02 193.27 459.64 192.70C460.25 192.12 460.87 191.55 461.50 190.98C462.12 190.41 462.75 189.85 463.38 189.29C464.00 188.72 464.64 188.17 465.27 187.61C465.91 187.05 466.55 186.50 467.19 185.95C467.83 185.40 468.47 184.85 469.11 184.30C469.76 183.76 470.40 183.21 471.05 182.67C471.70 182.13 472.35 181.59 473.01 181.06C473.66 180.52 474.31 179.98 474.97 179.45C475.62 178.92 476.28 178.39 476.94 177.86C477.60 177.33 478.26 176.80 478.92 176.27C479.58 175.74 480.24 175.22 480.91 174.69C481.57 174.17 482.23 173.65 482.90 173.12C483.56 172.60 484.23 172.08 484.90 171.57C485.57 171.05 486.24 170.53 486.91 170.02C487.58 169.51 488.25 169.00 488.93 168.49C489.60 167.98 490.28 167.47 490.95 166.97C491.63 166.46 492.31 165.96 492.99 165.46C493.68 164.97 494.36 164.47 495.04 163.98C495.73 163.48 496.42 162.99 497.11 162.51C497.79 162.02 498.49 161.54 499.18 161.05C499.87 160.57 500.57 160.10 501.27 159.62C501.96 159.15 502.66 158.68 503.36 158.21C504.07 157.75 504.77 157.28 505.48 156.82C506.19 156.37 506.90 155.91 507.61 155.46C508.32 155.01 509.04 154.57 509.76 154.13C510.47 153.69 511.19 153.25 511.92 152.82C512.64 152.39 513.37 151.97 514.10 151.54C514.83 151.12 515.56 150.71 516.29 150.30C517.03 149.89 517.77 149.48 518.51 149.08C519.25 148.68 519.99 148.28 520.74 147.89C521.48 147.50 522.23 147.12 522.98 146.74C523.74 146.36 524.49 145.98 525.25 145.62C526.00 145.25 526.76 144.88 527.52 144.52C528.29 144.16 529.05 143.81 529.82 143.46C530.58 143.11 531.35 142.76 532.12 142.42C532.89 142.08 533.67 141.74 534.44 141.41C535.22 141.08 536.00 140.75 536.77 140.43C537.55 140.10 538.33 139.79 539.12 139.47C539.90 139.15 540.68 138.84 541.47 138.53C542.26 138.23 543.04 137.92 543.83 137.62C544.62 137.32 545.41 137.02 546.20 136.73C547.00 136.44 547.79 136.15 548.58 135.86C549.38 135.57 550.17 135.29 550.97 135.00C551.77 134.72 552.56 134.44 553.36 134.17C554.16 133.89 554.96 133.62 555.76 133.35C556.56 133.08 557.36 132.81 558.16 132.54C558.97 132.27 559.77 132.01 560.57 131.75C561.38 131.49 562.18 131.23 562.98 130.97C563.79 130.71 564.59 130.45 565.40 130.20C566.21 129.95 567.01 129.69 567.82 129.44C568.63 129.19 569.43 128.94 570.24 128.70C571.05 128.45 571.86 128.20 572.67 127.96C573.48 127.71 574.29 127.47 575.10 127.23C575.91 126.99 576.72 126.75 577.53 126.51C578.34 126.27 579.15 126.03 579.96 125.80C580.77 125.56 581.58 125.33 582.39 125.09C583.21 124.86 584.02 124.63 584.83 124.40C585.64 124.17 586.45 123.94 587.27 123.71C588.08 123.48 588.89 123.25 589.71 123.02C590.52 122.80 591.34 122.57 592.15 122.35C592.96 122.12 593.78 121.90 594.59 121.68C595.41 121.45 596.22 121.23 597.04 121.01C597.85 120.79 598.67 120.57 599.48 120.35C600.30 120.13 601.11 119.91 601.93 119.70C602.75 119.48 603.56 119.26 604.38 119.05C605.20 118.83 606.01 118.62 606.83 118.40C607.65 118.19 608.46 117.97 609.28 117.76C610.10 117.55 610.91 117.34 611.73 117.13C612.55 116.92 613.37 116.71 614.19 116.50C615.00 116.29 615.82 116.08 616.64 115.87C617.46 115.66 618.28 115.45 619.10 115.25C619.91 115.04 620.73 114.83 621.55 114.63C622.37 114.42 623.19 114.22 624.01 114.01C624.83 113.81 625.65 113.61 626.47 113.40C627.29 113.20 628.11 113.00 628.93 112.80C629.75 112.60 630.57 112.39 631.39 112.19C632.21 111.99 633.03 111.79 633.85 111.59C634.67 111.39 635.49 111.20 636.31 111.00C637.13 110.80 637.95 110.60 638.77 110.40C639.59 110.21 640.41 110.01 641.24 109.81C642.06 109.62 642.88 109.42 643.70 109.23C644.52 109.03 645.34 108.84 646.16 108.64C646.99 108.45 647.81 108.26 648.63 108.06C649.45 107.87 650.27 107.68 651.10 107.48C651.92 107.29 652.74 107.10 653.56 106.91C654.39 106.72 655.21 106.53 656.03 106.33C656.85 106.14 657.68 105.95 658.50 105.76C659.32 105.57 660.14 105.38 660.97 105.20C661.79 105.01 662.61 104.82 663.44 104.63C664.26 104.44 665.08 104.25 665.90 104.06C666.73 103.88 667.55 103.69 668.37 103.50C669.20 103.31 670.02 103.13 670.84 102.94C671.67 102.75 672.49 102.57 673.31 102.38C674.14 102.19 674.96 102.01 675.79 101.82C676.61 101.63 677.43 101.45 678.26 101.26C679.08 101.07 679.90 100.89 680.73 100.70C681.55 100.52 682.79 100.24 683.20 100.14" stroke="#ff0000" stroke-width="3.0"/>
<path d="M128.65 359.68L130.15 359.64L131.65 359.60L133.15 359.56L134.64 359.52L136.14 359.48L137.64 359.45L138.64 359.42M148.64 359.14L150.14 359.10L151.63 359.05L153.13 359.00L154.63 358.96L156.13 358.91L157.63 358.86L158.63 358.83M168.37 358.47L169.87 358.41L171.37 358.35L172.87 358.29L174.37 358.23L175.86 358.16L177.36 358.10L178.61 358.04M188.35 357.58L189.85 357.50L191.34 357.43L192.84 357.35L194.34 357.27L195.84 357.19L197.33 357.11L198.33 357.05M208.31 356.46L209.81 356.37L211.31 356.27L212.80 356.17L214.30 356.07L215.80 355.97L217.29 355.86L218.29 355.79M228.01 355.03L229.50 354.91L231.00 354.79L232.49 354.67L233.99 354.55L235.48 354.42L236.98 354.30L238.22 354.20M247.93 353.37L249.43 353.23L250.92 353.08L252.41 352.93L253.90 352.78L255.40 352.62L256.89 352.46L257.88 352.34M267.55 351.15L269.04 350.95L270.53 350.75L272.01 350.54L273.50 350.32L274.98 350.10L276.46 349.88L277.70 349.69M287.31 348.10L288.79 347.83L290.27 347.57L291.74 347.30L293.22 347.02L294.69 346.74L296.16 346.45L297.14 346.26M306.68 344.26L308.15 343.94L309.61 343.61L311.07 343.28L312.54 342.94L314.00 342.60L315.45 342.25L316.67 341.96M326.11 339.53L327.55 339.13L329.00 338.72L330.44 338.30L331.88 337.88L333.31 337.44L334.74 337.00L335.70 336.70M344.88 333.43L346.27 332.87L347.65 332.29L349.02 331.68L350.39 331.05L351.74 330.40L353.08 329.73L354.18 329.15M362.19 324.06L363.37 323.13L364.53 322.18L365.66 321.19L366.76 320.17L367.83 319.13L368.88 318.05L369.57 317.32M375.70 309.76L376.57 308.53L377.42 307.30L378.25 306.05L379.07 304.79L379.87 303.53L380.66 302.25L381.17 301.39M385.77 293.08L386.45 291.75L387.12 290.40L387.77 289.05L388.41 287.70L389.05 286.34L389.67 284.97L390.08 284.06M393.75 275.30L394.29 273.90L394.83 272.50L395.36 271.10L395.89 269.70L396.41 268.29L396.92 266.88L397.26 265.94M400.34 256.96L400.81 255.53L401.28 254.11L401.74 252.68L402.21 251.25L402.66 249.83L403.12 248.40L403.34 247.68M406.22 238.37L406.65 236.93L407.08 235.49L407.51 234.06L407.93 232.62L408.36 231.18L408.78 229.74L408.99 229.02M411.67 219.91L412.10 218.47L412.53 217.04L412.96 215.60L413.39 214.16L413.83 212.73L414.27 211.30L414.57 210.34M417.46 201.29L417.93 199.87L418.41 198.45L418.89 197.03L419.37 195.61L419.86 194.19L420.35 192.77L420.68 191.83M423.99 182.92L424.54 181.53L425.10 180.14L425.68 178.75L426.26 177.37L426.86 176.00L427.47 174.63L427.88 173.72M432.23 165.28L433.00 163.99L433.78 162.71L434.60 161.45L435.43 160.21L436.30 158.98L437.19 157.78L437.80 156.98M444.15 149.93L445.25 148.91L446.37 147.91L447.51 146.94L448.67 145.99L449.86 145.08L451.07 144.19L451.89 143.61M460.21 138.54L461.53 137.85L462.87 137.17L464.22 136.50L465.57 135.85L466.93 135.22L468.30 134.61L469.44 134.10M478.47 130.44L479.87 129.91L481.28 129.39L482.69 128.87L484.10 128.36L485.51 127.85L486.92 127.34L487.86 127.01M497.08 123.84L498.51 123.37L499.93 122.90L501.35 122.42L502.78 121.96L504.20 121.49L505.63 121.02L506.58 120.72M515.87 117.77L517.31 117.33L518.74 116.89L520.18 116.46L521.61 116.03L523.05 115.60L524.49 115.18L525.69 114.83M535.07 112.17L536.51 111.77L537.96 111.37L539.41 110.98L540.85 110.59L542.30 110.20L543.75 109.82L544.72 109.56M554.15 107.11L555.61 106.74L557.06 106.38L558.52 106.01L559.97 105.65L561.43 105.29L562.88 104.93L564.10 104.63M573.58 102.36L575.04 102.01L576.50 101.67L577.96 101.33L579.42 101.00L580.88 100.66L582.34 100.33L583.32 100.10M592.83 97.98L594.30 97.66L595.76 97.34L597.23 97.03L598.70 96.71L600.16 96.40L601.63 96.09L602.85 95.83M612.40 93.84L613.87 93.54L615.33 93.25L616.81 92.95L618.28 92.65L619.75 92.36L621.22 92.07L622.20 91.87M631.77 90.01L633.24 89.73L634.71 89.45L636.19 89.17L637.66 88.89L639.13 88.62L640.61 88.34L641.84 88.12M651.43 86.37L652.90 86.10L654.38 85.84L655.86 85.57L657.33 85.31L658.81 85.05L660.29 84.79L661.27 84.62M671.12 82.92L672.60 82.66L674.08 82.41L675.56 82.16L677.04 81.91L678.52 81.66L679.99 81.41L680.98 81.24" stroke="#ff0000" stroke-width="3.0"/>
<path d="M123.40 358.80C123.82 358.78 125.08 358.73 125.92 358.69C126.76 358.65 127.59 358.61 128.43 358.57C129.27 358.53 130.11 358.49 130.95 358.45C131.79 358.42 132.63 358.38 133.47 358.34C134.31 358.30 135.14 358.26 135.98 358.22C136.82 358.18 137.66 358.14 138.50 358.11C139.34 358.07 140.18 358.03 141.02 357.99C141.86 357.95 142.69 357.91 143.53 357.87C144.37 357.83 145.21 357.79 146.05 357.75C146.89 357.71 147.73 357.67 148.57 357.63C149.41 357.59 150.24 357.55 151.08 357.51C151.92 357.47 152.76 357.43 153.60 357.39C154.44 357.35 155.28 357.31 156.12 357.27C156.95 357.23 157.79 357.19 158.63 357.15C159.47 357.11 160.31 357.07 161.15 357.03C161.99 356.99 162.83 356.95 163.66 356.91C164.50 356.86 165.34 356.82 166.18 356.78C167.02 356.74 167.86 356.70 168.70 356.65C169.53 356.61 170.37 356.57 171.21 356.52C172.05 356.48 172.89 356.43 173.73 356.39C174.57 356.34 175.40 356.29 176.24 356.25C177.08 356.20 177.92 356.15 178.76 356.10C179.59 356.05 180.43 356.01 181.27 355.95C182.11 355.90 182.95 355.85 183.78 355.80C184.62 355.75 185.46 355.69 186.30 355.64C187.14 355.58 187.97 355.53 188.81 355.47C189.65 355.41 190.49 355.35 191.32 355.29C192.16 355.23 193.00 355.17 193.83 355.10C194.67 355.04 195.51 354.98 196.34 354.91C197.18 354.84 198.02 354.78 198.85 354.71C199.69 354.64 200.53 354.56 201.36 354.49C202.20 354.42 203.04 354.34 203.87 354.27C204.71 354.19 205.54 354.11 206.38 354.03C207.22 353.95 208.05 353.87 208.89 353.79C209.72 353.71 210.56 353.63 211.39 353.54C212.23 353.46 213.06 353.38 213.90 353.29C214.74 353.21 215.57 353.12 216.41 353.04C217.24 352.95 218.08 352.87 218.91 352.78C219.75 352.69 220.58 352.61 221.42 352.52C222.25 352.43 223.09 352.34 223.92 352.26C224.76 352.17 225.59 352.08 226.43 351.99C227.26 351.90 228.10 351.81 228.93 351.72C229.77 351.63 230.60 351.54 231.44 351.45C232.27 351.36 233.11 351.26 233.94 351.17C234.78 351.08 235.61 350.99 236.44 350.89C237.28 350.80 238.11 350.70 238.95 350.61C239.78 350.51 240.61 350.41 241.45 350.31C242.28 350.21 243.11 350.11 243.94 350.00C244.78 349.90 245.61 349.79 246.44 349.68C247.27 349.57 248.10 349.46 248.93 349.34C249.76 349.23 250.59 349.11 251.42 348.98C252.25 348.86 253.08 348.73 253.91 348.60C254.74 348.47 255.57 348.34 256.39 348.20C257.22 348.06 258.05 347.92 258.87 347.78C259.70 347.63 260.52 347.49 261.35 347.33C262.17 347.18 263.00 347.02 263.82 346.86C264.64 346.70 265.47 346.54 266.29 346.37C267.11 346.21 267.93 346.03 268.75 345.86C269.57 345.68 270.39 345.50 271.21 345.32C272.03 345.14 272.85 344.95 273.67 344.76C274.49 344.57 275.30 344.38 276.12 344.19C276.94 343.99 277.75 343.79 278.57 343.59C279.38 343.38 280.20 343.18 281.01 342.97C281.83 342.76 282.64 342.55 283.45 342.33C284.26 342.11 285.07 341.90 285.89 341.67C286.70 341.45 287.51 341.23 288.32 341.00C289.13 340.77 289.94 340.54 290.74 340.30C291.55 340.07 292.36 339.83 293.16 339.59C293.97 339.35 294.78 339.10 295.58 338.86C296.39 338.61 297.19 338.36 297.99 338.10C298.80 337.85 299.60 337.59 300.40 337.33C301.20 337.07 302.00 336.81 302.80 336.54C303.60 336.27 304.39 336.00 305.19 335.72C305.99 335.44 306.78 335.16 307.58 334.88C308.37 334.60 309.16 334.31 309.95 334.02C310.74 333.72 311.53 333.43 312.32 333.13C313.11 332.82 313.89 332.52 314.68 332.21C315.46 331.90 316.24 331.59 317.02 331.27C317.80 330.95 318.58 330.63 319.36 330.30C320.14 329.97 320.91 329.64 321.68 329.31C322.46 328.97 323.23 328.63 323.99 328.28C324.76 327.94 325.53 327.59 326.29 327.23C327.05 326.87 327.81 326.51 328.56 326.14C329.32 325.78 330.07 325.40 330.82 325.02C331.57 324.64 332.31 324.26 333.05 323.86C333.79 323.47 334.53 323.07 335.26 322.67C335.99 322.26 336.72 321.85 337.44 321.43C338.16 321.01 338.88 320.58 339.59 320.14C340.30 319.71 341.01 319.26 341.71 318.81C342.41 318.36 343.10 317.90 343.79 317.43C344.48 316.96 345.16 316.49 345.83 316.00C346.50 315.51 347.17 315.02 347.83 314.51C348.49 314.01 349.14 313.50 349.78 312.97C350.43 312.45 351.06 311.92 351.69 311.37C352.31 310.83 352.93 310.28 353.55 309.72C354.16 309.16 354.76 308.59 355.36 308.01C355.95 307.43 356.54 306.84 357.12 306.25C357.70 305.65 358.27 305.05 358.84 304.44C359.40 303.83 359.96 303.21 360.51 302.59C361.06 301.96 361.60 301.33 362.14 300.69C362.68 300.05 363.21 299.40 363.73 298.75C364.25 298.10 364.77 297.44 365.28 296.78C365.79 296.12 366.29 295.45 366.79 294.77C367.29 294.10 367.78 293.42 368.27 292.74C368.76 292.06 369.24 291.37 369.72 290.68C370.20 289.99 370.67 289.30 371.14 288.60C371.61 287.90 372.07 287.20 372.54 286.50C373.00 285.80 373.45 285.09 373.91 284.38C374.36 283.68 374.81 282.97 375.26 282.25C375.71 281.54 376.15 280.82 376.59 280.11C377.04 279.39 377.48 278.67 377.91 277.95C378.35 277.23 378.78 276.51 379.22 275.79C379.65 275.07 380.08 274.34 380.51 273.62C380.94 272.89 381.37 272.17 381.79 271.44C382.22 270.72 382.65 269.99 383.07 269.26C383.49 268.53 383.91 267.80 384.33 267.07C384.75 266.34 385.17 265.61 385.59 264.88C386.01 264.15 386.43 263.42 386.85 262.69C387.26 261.96 387.68 261.23 388.10 260.50C388.51 259.77 388.93 259.03 389.34 258.30C389.76 257.57 390.17 256.84 390.59 256.11C391.01 255.38 391.42 254.65 391.84 253.92C392.26 253.19 392.68 252.46 393.10 251.73C393.52 251.00 393.94 250.27 394.36 249.54C394.78 248.82 395.20 248.09 395.63 247.37C396.05 246.64 396.48 245.92 396.91 245.19C397.33 244.47 397.76 243.75 398.20 243.03C398.63 242.31 399.06 241.59 399.50 240.87C399.94 240.15 400.38 239.44 400.82 238.72C401.26 238.01 401.71 237.30 402.15 236.59C402.60 235.88 403.05 235.17 403.51 234.46C403.96 233.75 404.41 233.05 404.87 232.35C405.33 231.64 405.79 230.94 406.26 230.24C406.72 229.54 407.19 228.84 407.66 228.15C408.13 227.45 408.60 226.76 409.08 226.07C409.55 225.37 410.03 224.68 410.51 224.00C410.99 223.31 411.48 222.62 411.96 221.94C412.45 221.26 412.94 220.57 413.44 219.90C413.93 219.22 414.43 218.54 414.93 217.87C415.43 217.19 415.93 216.52 416.44 215.85C416.94 215.18 417.46 214.52 417.97 213.85C418.48 213.19 419.00 212.53 419.52 211.87C420.04 211.22 420.57 210.56 421.10 209.91C421.63 209.26 422.16 208.61 422.69 207.97C423.23 207.32 423.77 206.68 424.31 206.04C424.86 205.41 425.41 204.77 425.96 204.14C426.51 203.51 427.07 202.88 427.63 202.26C428.19 201.64 428.75 201.02 429.32 200.40C429.89 199.79 430.46 199.17 431.04 198.57C431.61 197.96 432.19 197.35 432.78 196.75C433.36 196.15 433.95 195.56 434.54 194.96C435.13 194.37 435.73 193.78 436.33 193.20C436.93 192.61 437.54 192.03 438.14 191.46C438.75 190.88 439.36 190.31 439.98 189.74C440.59 189.17 441.21 188.61 441.84 188.04C442.46 187.48 443.08 186.93 443.71 186.37C444.34 185.82 444.98 185.27 445.61 184.72C446.25 184.18 446.89 183.63 447.53 183.09C448.17 182.55 448.81 182.01 449.46 181.48C450.11 180.94 450.76 180.41 451.41 179.88C452.06 179.35 452.71 178.82 453.36 178.29C454.02 177.77 454.67 177.24 455.33 176.72C455.99 176.20 456.65 175.67 457.31 175.15C457.97 174.64 458.63 174.12 459.29 173.60C459.95 173.08 460.61 172.57 461.28 172.05C461.94 171.54 462.61 171.03 463.28 170.52C463.95 170.01 464.62 169.50 465.29 169.00C465.96 168.49 466.63 167.99 467.31 167.49C467.98 166.99 468.66 166.49 469.34 165.99C470.01 165.50 470.69 165.01 471.38 164.52C472.06 164.02 472.74 163.54 473.43 163.05C474.11 162.57 474.80 162.08 475.49 161.60C476.18 161.12 476.87 160.64 477.56 160.17C478.26 159.70 478.95 159.22 479.65 158.75C480.35 158.29 481.05 157.82 481.75 157.36C482.45 156.89 483.15 156.43 483.86 155.98C484.56 155.52 485.27 155.07 485.98 154.62C486.69 154.17 487.40 153.72 488.11 153.28C488.82 152.84 489.54 152.40 490.26 151.96C490.97 151.53 491.69 151.09 492.42 150.67C493.14 150.24 493.86 149.81 494.59 149.39C495.31 148.97 496.04 148.56 496.77 148.14C497.50 147.73 498.23 147.32 498.97 146.92C499.70 146.51 500.44 146.11 501.18 145.72C501.92 145.32 502.66 144.93 503.40 144.55C504.15 144.16 504.89 143.78 505.64 143.40C506.39 143.03 507.14 142.65 507.90 142.29C508.65 141.92 509.40 141.56 510.16 141.20C510.92 140.84 511.68 140.49 512.44 140.15C513.21 139.80 513.97 139.46 514.74 139.12C515.51 138.79 516.28 138.46 517.05 138.14C517.82 137.81 518.59 137.49 519.37 137.18C520.15 136.86 520.93 136.55 521.71 136.25C522.49 135.94 523.27 135.64 524.05 135.34C524.84 135.05 525.62 134.75 526.41 134.47C527.20 134.18 527.99 133.90 528.78 133.62C529.57 133.34 530.36 133.06 531.16 132.79C531.95 132.52 532.75 132.25 533.54 131.99C534.34 131.72 535.14 131.46 535.94 131.20C536.74 130.94 537.54 130.69 538.34 130.44C539.14 130.18 539.94 129.93 540.74 129.69C541.55 129.44 542.35 129.20 543.15 128.96C543.96 128.71 544.77 128.48 545.57 128.24C546.38 128.00 547.18 127.77 547.99 127.53C548.80 127.30 549.61 127.07 550.42 126.84C551.23 126.61 552.03 126.39 552.84 126.16C553.65 125.94 554.46 125.71 555.28 125.49C556.09 125.27 556.90 125.05 557.71 124.83C558.52 124.61 559.33 124.40 560.14 124.18C560.96 123.97 561.77 123.75 562.58 123.54C563.40 123.33 564.21 123.12 565.02 122.91C565.84 122.69 566.65 122.49 567.46 122.28C568.28 122.07 569.09 121.86 569.91 121.66C570.72 121.45 571.54 121.25 572.35 121.04C573.17 120.84 573.98 120.64 574.80 120.44C575.61 120.23 576.43 120.03 577.25 119.83C578.06 119.63 578.88 119.44 579.69 119.24C580.51 119.04 581.33 118.84 582.14 118.65C582.96 118.45 583.78 118.25 584.59 118.06C585.41 117.87 586.23 117.67 587.05 117.48C587.86 117.29 588.68 117.09 589.50 116.90C590.32 116.71 591.13 116.52 591.95 116.33C592.77 116.14 593.59 115.95 594.41 115.76C595.23 115.57 596.04 115.38 596.86 115.20C597.68 115.01 598.50 114.82 599.32 114.64C600.14 114.45 600.96 114.27 601.78 114.08C602.59 113.90 603.41 113.71 604.23 113.53C605.05 113.34 605.87 113.16 606.69 112.98C607.51 112.80 608.33 112.62 609.15 112.43C609.97 112.25 610.79 112.07 611.61 111.89C612.43 111.71 613.25 111.53 614.07 111.35C614.89 111.18 615.71 111.00 616.53 110.82C617.36 110.64 618.18 110.46 619.00 110.29C619.82 110.11 620.64 109.94 621.46 109.76C622.28 109.58 623.10 109.41 623.92 109.23C624.74 109.06 625.57 108.89 626.39 108.71C627.21 108.54 628.03 108.36 628.85 108.19C629.67 108.02 630.50 107.85 631.32 107.68C632.14 107.50 632.96 107.33 633.78 107.16C634.61 106.99 635.43 106.82 636.25 106.65C637.07 106.48 637.90 106.31 638.72 106.14C639.54 105.97 640.36 105.80 641.19 105.64C642.01 105.47 642.83 105.30 643.65 105.13C644.48 104.97 645.30 104.80 646.12 104.63C646.95 104.46 647.77 104.30 648.59 104.13C649.42 103.97 650.24 103.80 651.06 103.64C651.89 103.47 652.71 103.31 653.53 103.14C654.36 102.98 655.18 102.81 656.00 102.65C656.83 102.49 657.65 102.32 658.47 102.16C659.30 102.00 660.12 101.83 660.95 101.67C661.77 101.51 662.59 101.35 663.42 101.18C664.24 101.02 665.06 100.86 665.89 100.70C666.71 100.54 667.54 100.38 668.36 100.22C669.19 100.05 670.01 99.89 670.83 99.73C671.66 99.57 672.48 99.41 673.31 99.25C674.13 99.09 674.95 98.93 675.78 98.77C676.60 98.61 677.43 98.45 678.25 98.29C679.08 98.13 679.90 97.97 680.73 97.81C681.55 97.65 682.79 97.41 683.20 97.33" stroke="#000000" stroke-width="3.0"/>
<path d="M129.64 358.47L131.14 358.40L132.64 358.32L134.13 358.25L135.63 358.17L137.13 358.10L138.63 358.03L139.88 357.97M149.62 357.53L151.11 357.46L152.61 357.40L154.11 357.34L155.61 357.29L157.11 357.23L158.61 357.18L159.61 357.14M169.35 356.84L170.85 356.79L172.35 356.74L173.85 356.68L175.35 356.63L176.84 356.56L178.34 356.50L179.59 356.43M189.32 355.78L190.81 355.65L192.30 355.50L193.80 355.35L195.29 355.18L196.77 354.99L198.26 354.80L199.25 354.66M209.10 352.93L210.57 352.63L212.03 352.31L213.50 351.99L214.96 351.66L216.42 351.32L217.88 350.98L218.86 350.75M228.32 348.39L229.77 348.02L231.22 347.65L232.68 347.29L234.13 346.92L235.59 346.56L237.04 346.20L238.01 345.96M247.70 343.48L249.15 343.08L250.59 342.67L252.03 342.24L253.46 341.81L254.89 341.36L256.32 340.89L257.27 340.58M266.40 337.16L267.78 336.59L269.16 335.99L270.53 335.39L271.90 334.76L273.25 334.13L274.60 333.48L275.50 333.03M284.04 328.34L285.32 327.56L286.59 326.75L287.85 325.94L289.09 325.10L290.33 324.25L291.55 323.38L292.36 322.79M299.95 316.69L301.08 315.69L302.18 314.68L303.28 313.65L304.36 312.62L305.43 311.56L306.48 310.50L307.18 309.78M313.68 302.52L314.63 301.36L315.58 300.20L316.52 299.02L317.44 297.84L318.35 296.65L319.26 295.46L319.71 294.86M325.25 286.84L326.06 285.58L326.85 284.30L327.62 283.02L328.39 281.73L329.14 280.43L329.88 279.13L330.37 278.25M334.78 269.84L335.45 268.50L336.11 267.15L336.76 265.80L337.41 264.45L338.05 263.09L338.69 261.73L339.10 260.83M342.93 252.13L343.51 250.75L344.08 249.36L344.64 247.97L345.19 246.58L345.74 245.18L346.28 243.78L346.55 243.08M349.86 233.91L350.34 232.49L350.81 231.07L351.28 229.64L351.73 228.21L352.18 226.78L352.62 225.35L352.84 224.63M355.58 215.27L355.98 213.83L356.38 212.39L356.78 210.94L357.18 209.49L357.57 208.05L357.96 206.60L358.16 205.87M360.52 196.67L360.86 195.21L361.21 193.75L361.54 192.29L361.87 190.83L362.19 189.36L362.50 187.89L362.70 186.92M364.52 177.59L364.80 176.12L365.06 174.64L365.33 173.17L365.59 171.69L365.84 170.21L366.09 168.73L366.22 167.99M367.76 158.37L367.98 156.88L368.21 155.40L368.43 153.92L368.65 152.43L368.87 150.95L369.08 149.47L369.19 148.72M370.46 139.31L370.65 137.82L370.83 136.33L371.02 134.85L371.21 133.36L371.39 131.87L371.57 130.38L371.69 129.39M372.80 119.95L372.97 118.46L373.14 116.97L373.31 115.48L373.48 113.99L373.64 112.50L373.81 111.01L373.90 110.27M375.12 100.60L375.36 99.11L375.61 97.64L375.88 96.16L376.18 94.69L376.50 93.23L376.86 91.77L377.04 91.04M380.36 82.16L381.09 80.85L381.90 79.59L382.78 78.38L383.74 77.22L384.77 76.13L385.86 75.11L386.63 74.46M395.10 69.72L396.51 69.19L397.92 68.71L399.36 68.26L400.80 67.84L402.24 67.45L403.70 67.08L404.67 66.85M414.46 64.82L415.94 64.55L417.41 64.28L418.89 64.01L420.36 63.74L421.84 63.48L423.31 63.22L424.30 63.04M433.90 61.33L435.37 61.06L436.85 60.79L438.32 60.53L439.80 60.26L441.28 60.00L442.75 59.74L443.74 59.57M453.60 57.92L455.08 57.68L456.56 57.45L458.05 57.22L459.53 56.99L461.01 56.77L462.49 56.55L463.48 56.41M473.14 55.05L474.62 54.85L476.11 54.65L477.60 54.45L479.08 54.26L480.57 54.06L482.06 53.87L483.30 53.71M492.97 52.45L494.45 52.26L495.94 52.06L497.43 51.87L498.91 51.67L500.40 51.48L501.89 51.28L502.88 51.15M512.54 49.87L514.03 49.67L515.52 49.48L517.01 49.28L518.49 49.09L519.98 48.89L521.47 48.70L522.71 48.54M532.38 47.33L533.87 47.15L535.36 46.97L536.85 46.80L538.34 46.62L539.83 46.45L541.32 46.28L542.31 46.17M552.26 45.15L553.75 45.01L555.24 44.87L556.74 44.74L558.23 44.61L559.73 44.49L561.22 44.37L562.22 44.29M571.95 43.63L573.44 43.53L574.94 43.44L576.44 43.36L577.93 43.27L579.43 43.18L580.93 43.10L582.18 43.03M591.91 42.45L593.41 42.36L594.90 42.26L596.40 42.16L597.89 42.06L599.39 41.95L600.89 41.85L601.88 41.77M611.60 41.03L613.10 40.91L614.59 40.79L616.09 40.67L617.59 40.56L619.08 40.44L620.58 40.33L621.82 40.24M631.55 39.52L633.04 39.42L634.54 39.32L636.03 39.22L637.53 39.11L639.03 39.02L640.52 38.92L641.52 38.85M651.50 38.24L653.00 38.15L654.50 38.07L655.99 37.98L657.49 37.90L658.99 37.81L660.49 37.73L661.48 37.67M671.22 37.14L672.72 37.06L674.21 36.98L675.71 36.90L677.21 36.82L678.71 36.74L680.20 36.66L681.45 36.59" stroke="#000000" stroke-width="3.0"/>
</g>
<path d="M165.2 56.9H200.5" stroke="#3a7d2c" stroke-width="3.0" fill="none"/>
<path d="M165.2 92.8H200.5" stroke="#0000ff" stroke-width="3.0" fill="none"/>
<path d="M165.2 128.8H200.5" stroke="#ff0000" stroke-width="3.0" fill="none"/>
<path d="M165.2 164.6H200.5" stroke="#000000" stroke-width="3.0" fill="none"/>
<g font-family="Liberation Serif, serif" font-size="30.5" fill="#000" stroke="#fff" stroke-width="0.15" style="filter:grayscale(1)">
<text transform="translate(85.51,369.25) scale(1.1263,1.0900)" font-size="30.5">0</text>
<text transform="translate(45.37,282.93) scale(1.0723,1.0900)" font-size="30.5">0.25</text>
<text transform="translate(61.17,196.60) scale(1.0766,1.0900)" font-size="30.5">0.5</text>
<text transform="translate(45.27,110.27) scale(1.0723,1.0900)" font-size="30.5">0.75</text>
<text transform="translate(85.92,23.95) scale(1.0417,1.0900)" font-size="30.5">1</text>
<text transform="translate(164.76,403.60) scale(1.0869,1.0900)" font-size="30.5">0.6</text>
<text transform="translate(288.34,403.60) scale(1.1050,1.0900)" font-size="30.5">0.8</text>
<text transform="translate(425.77,403.60) scale(1.0975,1.0900)" font-size="30.5">1</text>
<text transform="translate(537.77,403.60) scale(1.0983,1.0900)" font-size="30.5">1.2</text>
<text transform="translate(662.37,403.60) scale(1.0600,1.0900)" font-size="30.5">1.4</text>
<text transform="translate(214.54,65.40) scale(1.0442,0.9976)" font-size="30.5" font-style="italic" stroke-width="0.192">e</text>
<text transform="translate(230.13,65.40) scale(1.1984,1.0512)" font-size="30.5" font-style="italic" stroke-width="0.250">B</text>
<path d="M265.1 54.00H286.8M265.1 60.00H286.8" stroke="#000" stroke-width="1.45" fill="none"/>
<text transform="translate(297.42,65.40) scale(1.1186,1.0900)" font-size="30.5">0</text>
<text transform="translate(213.92,101.40) scale(1.1217,1.0900)" font-size="30.5">0.2</text>
<text transform="translate(213.96,137.40) scale(1.0842,1.0900)" font-size="30.5">0.4</text>
<text transform="translate(213.94,173.20) scale(1.0980,1.0900)" font-size="30.5">0.6</text>
<g transform="translate(13.55,188.0) rotate(-90)" fill="#000" stroke="none"><path fill-rule="evenodd" d="M-10.10 0A10.10 6.65 0 1 0 10.10 0A10.10 6.65 0 1 0 -10.10 0ZM-7.10 0A7.10 5.90 0 1 1 7.10 0A7.10 5.90 0 1 1 -7.10 0Z"/><path d="M-0.90 -11.25h1.80v22.50h-1.80ZM-5.45 -11.25h10.90v0.80h-10.90ZM-5.45 10.45h10.90v0.80h-10.90Z"/></g>
<text transform="translate(298.24,450.20) scale(1.3413,1.0462)" font-size="30.5" font-style="italic" stroke-width="0.410">T</text>
<text transform="translate(324.30,457.32) scale(1.5123,1.5610)" font-size="30.5">/</text>
<text transform="translate(336.26,450.20) scale(1.3294,1.0462)" font-size="30.5" font-style="italic" stroke-width="0.414">T</text>
<g transform="translate(370.9,431.3) rotate(0)" fill="#000" stroke="none"><path fill-rule="evenodd" d="M-7.25 0A7.25 5.00 0 1 0 7.25 0A7.25 5.00 0 1 0 -7.25 0ZM-5.25 0A5.25 4.25 0 1 1 5.25 0A5.25 4.25 0 1 1 -5.25 0Z"/><path d="M-0.65 -7.30h1.30v14.60h-1.30ZM-4.00 -7.30h8.00v0.80h-8.00ZM-4.00 6.50h8.00v0.80h-8.00Z"/></g>
<text transform="translate(357.79,458.30) scale(1.1239,0.9625)" font-size="21" font-style="italic" stroke-width="0.133">c</text>
<text transform="translate(382.61,450.51) scale(1.0696,1.1561)" font-size="30.5">(</text>
<text transform="translate(394.04,450.20) scale(1.0525,0.9976)" font-size="30.5" font-style="italic" stroke-width="0.190">e</text>
<text transform="translate(409.63,450.20) scale(1.2097,1.0512)" font-size="30.5" font-style="italic" stroke-width="0.248">B</text>
<path d="M444.6 438.80H466.3M444.6 444.80H466.3" stroke="#000" stroke-width="1.45" fill="none"/>
<text transform="translate(476.71,450.20) scale(1.1263,1.0900)" font-size="30.5">0</text>
<text transform="translate(493.74,450.51) scale(1.0696,1.1561)" font-size="30.5">)</text>
</g>
</svg>
</body></html>
